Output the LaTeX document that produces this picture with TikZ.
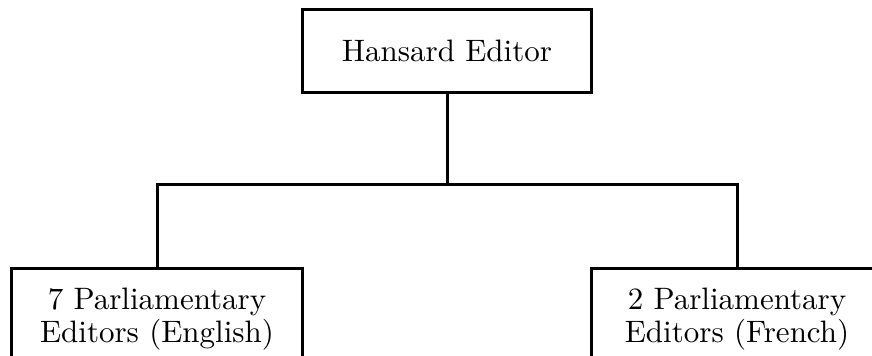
\documentclass[tikz,border=0pt]{standalone}
\begin{document}
\begin{tikzpicture}
  [
    x = 0.5pt, y = -0.5pt,
    headbox/.style = {draw, line width = 1.5pt, scale = 1.55, transform shape,
        minimum width = 93.5pt, minimum height = 26.5pt},
    staffbox/.style = {draw, line width = 1.5pt, scale = 1.55, transform shape,
        inner sep = 1pt, minimum width = 93.9pt, minimum height = 32.3pt, align = center},
    every node/.style = {font = \fontsize{10}{10.6}\selectfont},
    level 1/.style = {sibling distance = 290pt, level distance = 134pt},
    edge from parent/.style = {draw, line width = 1.5pt},
    edge from parent path = {(\tikzparentnode.south) -- ++(0,-45pt) -| (\tikzchildnode.north)},
  ]
  \useasboundingbox (0,0) rectangle (872,356);

  \node[headbox] (root) at (447,51) {Hansard Editor}
  child {node[staffbox] {7 Parliamentary\\Editors (English)}}
  child {node[staffbox] {2 Parliamentary\\Editors (French)}};

\end{tikzpicture}
\end{document}
